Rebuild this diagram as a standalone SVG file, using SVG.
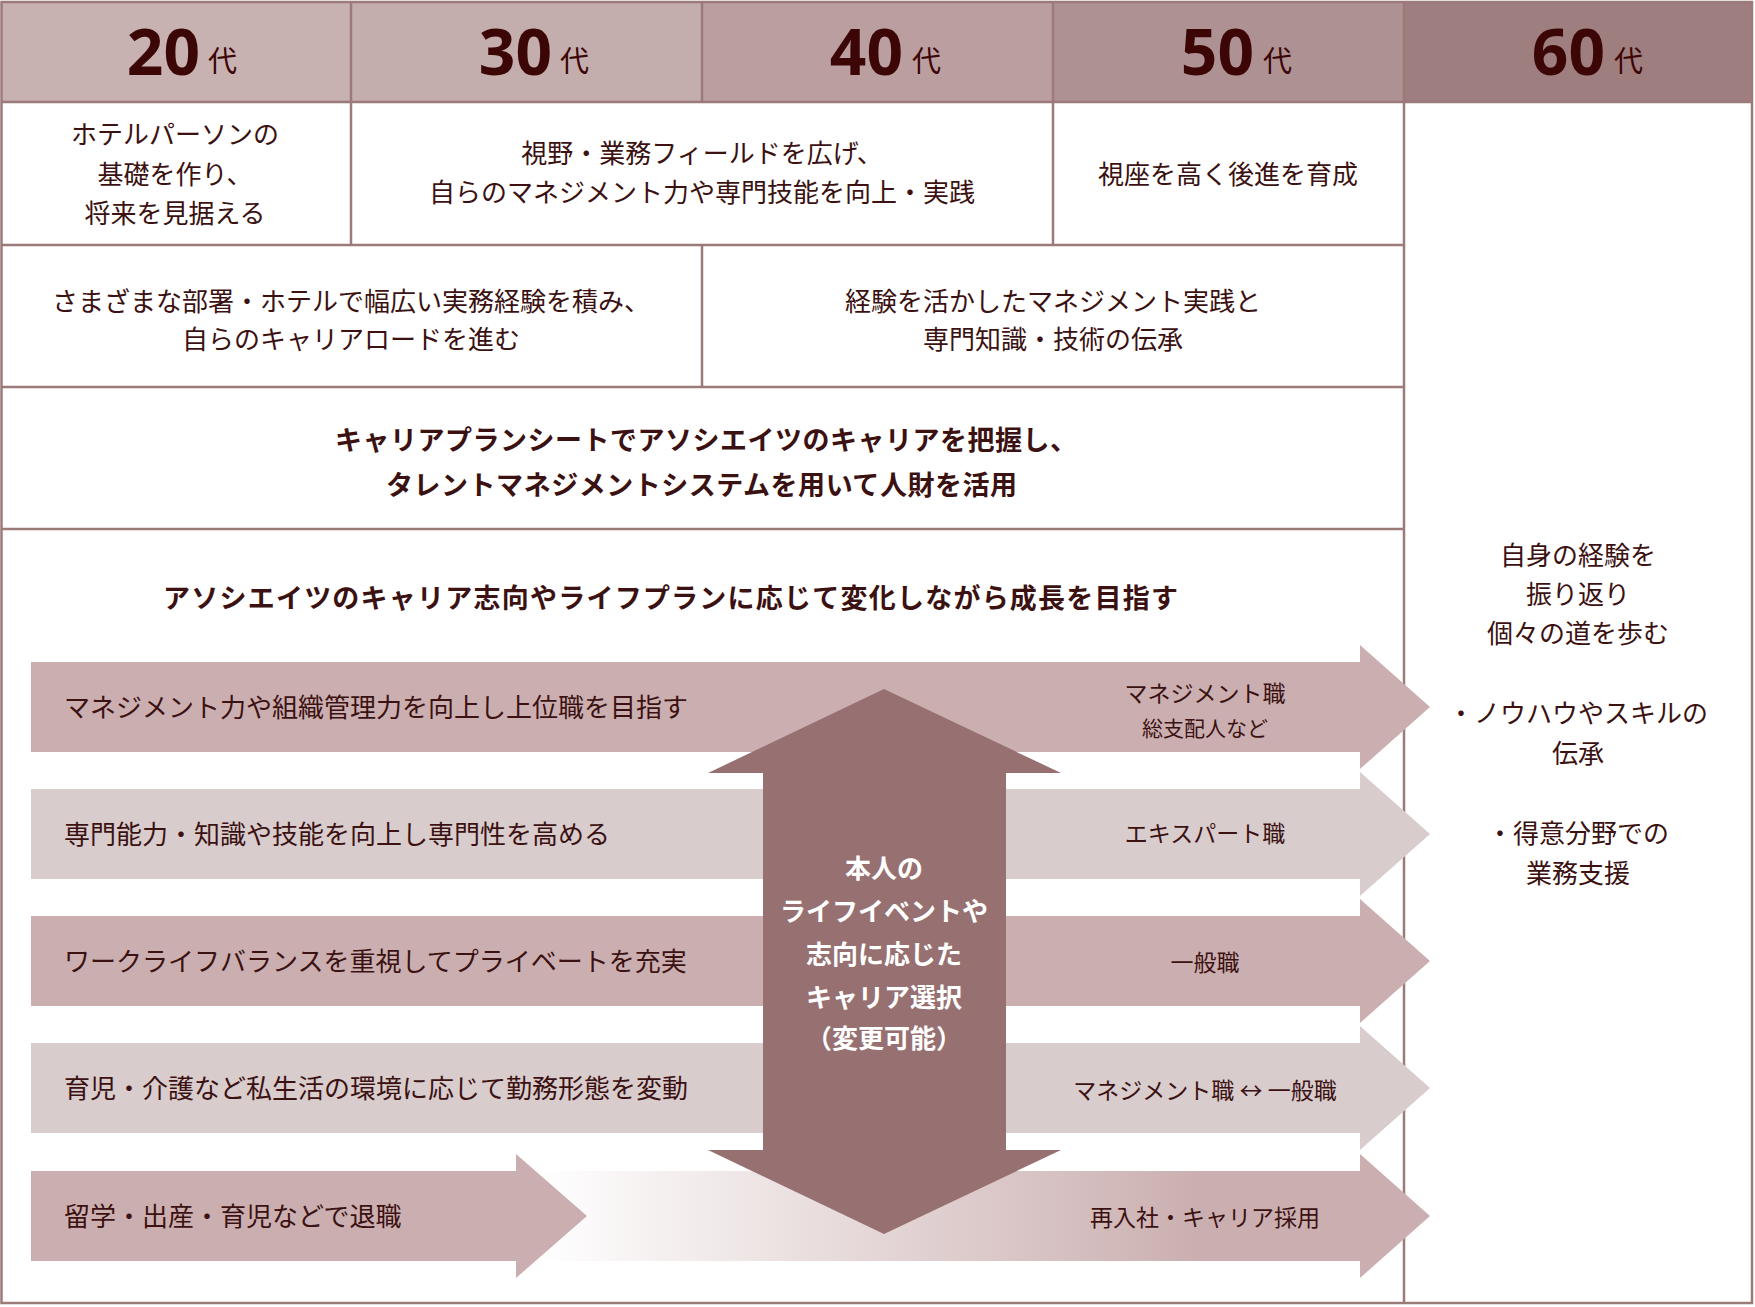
<svg xmlns="http://www.w3.org/2000/svg" width="1755" height="1307" viewBox="0 0 1755 1307">
  <defs>
    <style>
      .t { font-family: "Noto Sans CJK JP", "Noto Sans", sans-serif; fill: #3b1111; font-size: 26px; }
      .c { text-anchor: middle; }
      .b { font-weight: 700; }
      .b27 { font-size: 27px; }
      .num { font-family: "Noto Sans", "Roboto", sans-serif; font-weight: 700; font-size: 64px; fill: #3d0606; text-anchor: end; }
      .dai { font-family: "Noto Sans CJK JP", sans-serif; font-size: 29px; fill: #3d0606; }
      .grid { stroke: #9c7a7a; stroke-width: 2.5; fill: none; }
      .arrD { fill: #cbafb0; }
      .arrL { fill: #d9cccd; }
      .w { fill: #ffffff; }
      .sm { font-size: 23px; }
      .xs { font-size: 21px; }
    </style>
    <linearGradient id="fade" gradientUnits="userSpaceOnUse" x1="537" y1="0" x2="1200" y2="0">
      <stop offset="0" stop-color="#ffffff"/>
      <stop offset="1" stop-color="#cbafb0"/>
    </linearGradient>
  </defs>

  <rect x="0" y="0" width="1755" height="1307" fill="#ffffff"/>

  <!-- Header row -->
  <g id="header">
    <rect x="1" y="2" width="350" height="100" fill="#c8b1b1"/>
    <rect x="351" y="2" width="351" height="100" fill="#c4adad"/>
    <rect x="702" y="2" width="351" height="100" fill="#bb9fa0"/>
    <rect x="1053" y="2" width="351" height="100" fill="#ae9293"/>
    <rect x="1404" y="2" width="349" height="100" fill="#9f7e7f"/>
  </g>
  <g id="h20"><text class="num" x="200" y="75">20</text><text class="dai" x="208" y="72">代</text></g>
  <g id="h30"><text class="num" x="552" y="75">30</text><text class="dai" x="560" y="72">代</text></g>
  <g id="h40"><text class="num" x="903" y="75">40</text><text class="dai" x="912" y="72">代</text></g>
  <g id="h50"><text class="num" x="1254" y="75">50</text><text class="dai" x="1263" y="72">代</text></g>
  <g id="h60"><text class="num" x="1605" y="75">60</text><text class="dai" x="1614" y="72">代</text></g>

  <!-- Grid -->
  <g id="grid" class="grid">
    <rect x="1.5" y="2" width="1750.5" height="1301"/>
    <line x1="1" y1="102" x2="1753" y2="102"/>
    <line x1="351" y1="2" x2="351" y2="245"/>
    <line x1="702" y1="2" x2="702" y2="102"/>
    <line x1="1053" y1="2" x2="1053" y2="245"/>
    <line x1="1404" y1="2" x2="1404" y2="1304"/>
    <line x1="1" y1="245" x2="1404" y2="245"/>
    <line x1="702" y1="245" x2="702" y2="387"/>
    <line x1="1" y1="387" x2="1404" y2="387"/>
    <line x1="1" y1="529" x2="1404" y2="529"/>
  </g>

  <!-- Row 2 -->
  <g id="r2c1">
    <text class="t c" x="175" y="144">ホテルパーソンの</text>
    <text class="t c" x="175" y="184">基礎を作り、</text>
    <text class="t c" x="175" y="223">将来を見据える</text>
  </g>
  <g id="r2c2">
    <text class="t c" x="702" y="163">視野・業務フィールドを広げ、</text>
    <text class="t c" x="702" y="202">自らのマネジメント力や専門技能を向上・実践</text>
  </g>
  <g id="r2c4">
    <text class="t c" x="1228" y="184">視座を高く後進を育成</text>
  </g>
  <!-- Row 3 -->
  <g id="r3c1">
    <text class="t c" x="351" y="311">さまざまな部署・ホテルで幅広い実務経験を積み、</text>
    <text class="t c" x="351" y="349">自らのキャリアロードを進む</text>
  </g>
  <g id="r3c2">
    <text class="t c" x="1053" y="311">経験を活かしたマネジメント実践と</text>
    <text class="t c" x="1053" y="349">専門知識・技術の伝承</text>
  </g>
  <!-- Row 4 -->
  <g id="r4">
    <text class="t b b27" x="335" y="450" textLength="742" lengthAdjust="spacing">キャリアプランシートでアソシエイツのキャリアを把握し、</text>
    <text class="t b b27" x="386" y="495" textLength="631" lengthAdjust="spacing">タレントマネジメントシステムを用いて人財を活用</text>
  </g>
  <!-- Row 5 title -->
  <g id="r5title">
    <text class="t b b27" x="163" y="608" textLength="1015" lengthAdjust="spacing">アソシエイツのキャリア志向やライフプランに応じて変化しながら成長を目指す</text>
  </g>

  <!-- Arrows -->
  <g id="connectors">
    <polygon class="arrD" points="31,662 1360,662 1360,645 1430,707 1360,769 1360,752 31,752"/>
    <polygon class="arrL" points="31,789 1360,789 1360,772 1430,834 1360,896 1360,879 31,879"/>
    <polygon class="arrD" points="31,916 1360,916 1360,899 1430,961 1360,1023 1360,1006 31,1006"/>
    <polygon class="arrL" points="31,1043 1360,1043 1360,1026 1430,1088 1360,1150 1360,1133 31,1133"/>
    <polygon fill="url(#fade)" points="516,1171 1360,1171 1360,1154 1430,1216 1360,1278 1360,1261 516,1261"/>
    <polygon class="arrD" points="31,1171 516,1171 516,1154 587,1216 516,1278 516,1261 31,1261"/>
    <polygon fill="#977071" points="884,689 1061,773 1006,773 1006,1150 1061,1150 884,1234 708,1150 763,1150 763,773 708,773"/>
  </g>

  <g id="left-labels">
    <text class="t" x="64" y="717">マネジメント力や組織管理力を向上し上位職を目指す</text>
    <text class="t" x="64" y="844">専門能力・知識や技能を向上し専門性を高める</text>
    <text class="t" x="64" y="971">ワークライフバランスを重視してプライベートを充実</text>
    <text class="t" x="64" y="1098">育児・介護など私生活の環境に応じて勤務形態を変動</text>
    <text class="t" x="64" y="1226">留学・出産・育児などで退職</text>
  </g>

  <g id="right-labels">
    <text class="t c sm" x="1205" y="702">マネジメント職</text>
    <text class="t c xs" x="1205" y="736">総支配人など</text>
    <text class="t c sm" x="1205" y="842">エキスパート職</text>
    <text class="t c sm" x="1205" y="971">一般職</text>
    <text class="t c sm" x="1205" y="1099">マネジメント職 ↔ 一般職</text>
    <text class="t c sm" x="1205" y="1226">再入社・キャリア採用</text>
  </g>

  <g id="center-arrow-text">
    <text class="t c b w" x="884" y="878">本人の</text>
    <text class="t c b w" x="884" y="921">ライフイベントや</text>
    <text class="t c b w" x="884" y="964">志向に応じた</text>
    <text class="t c b w" x="884" y="1007">キャリア選択</text>
    <text class="t c b w" x="884" y="1048">（変更可能）</text>
  </g>

  <g id="sixties">
    <text class="t c" x="1578" y="565">自身の経験を</text>
    <text class="t c" x="1578" y="604">振り返り</text>
    <text class="t c" x="1578" y="643">個々の道を歩む</text>
    <text class="t c" x="1578" y="723">・ノウハウやスキルの</text>
    <text class="t c" x="1578" y="763">伝承</text>
    <text class="t c" x="1578" y="843">・得意分野での</text>
    <text class="t c" x="1578" y="883">業務支援</text>
  </g>
</svg>
